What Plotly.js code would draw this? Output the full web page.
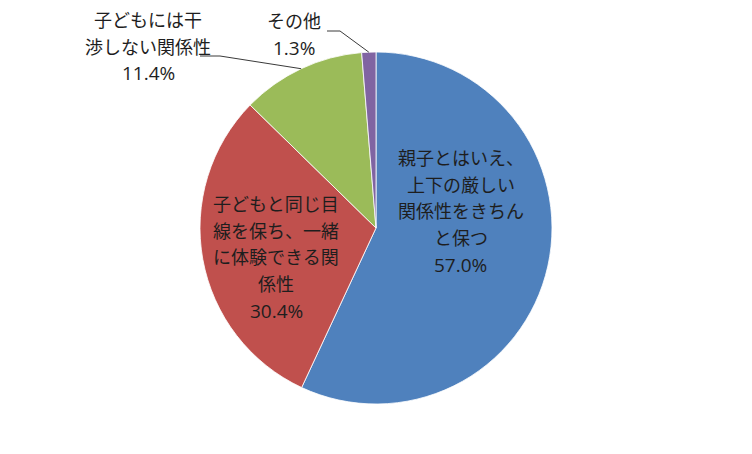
<!DOCTYPE html>
<html>
<head>
<meta charset="utf-8">
<script src="https://cdn.plot.ly/plotly-3.0.1.min.js"></script>
<style>html,body{margin:0;padding:0;background:#fff;}#chart{width:752px;height:454px;}</style>
</head>
<body>
<div id="chart"></div>
<script>
// ---- data ----
const categories = [
  '親子とはいえ、上下の厳しい関係性をきちんと保つ',
  '子どもと同じ目線を保ち、一緒に体験できる関係性',
  '子どもには干渉しない関係性',
  'その他'
];
const values = [57.0, 30.4, 11.4, 1.3];
const labelLines = [
  ['親子とはいえ、', '上下の厳しい', '関係性をきちん', 'と保つ'],
  ['子どもと同じ目', '線を保ち、一緒', 'に体験できる関', '係性'],
  ['子どもには干', '渉しない関係性'],
  ['その他']
];
const colors = ['#4F81BD', '#C0504D', '#9BBB59', '#8064A2'];

// ---- layout geometry (pixels) ----
const W = 752, H = 454;
const cx = 376, cy = 228, R = 176;
const px = x => x / W;
const py = y => 1 - y / H;

const jpFont = {family: '"Noto Sans CJK JP", sans-serif', size: 18, color: '#1e1e1e'};
const numFont = {family: '"Open Sans", sans-serif', size: 19, color: '#1e1e1e'};
const lineGap = 26.7;

// label block placement: [centre x, first line y]
const labelPos = [[461, 157], [276, 203], [148, 19], [294, 20]];

const annotations = [];
labelLines.forEach((lines, i) => {
  const [bx, by] = labelPos[i];
  lines.forEach((t, k) => {
    annotations.push({xref: 'paper', yref: 'paper', x: px(bx), y: py(by + k * lineGap),
      xanchor: 'center', yanchor: 'middle', text: t, showarrow: false, font: jpFont});
  });
  annotations.push({xref: 'paper', yref: 'paper', x: px(bx), y: py(by + lines.length * lineGap + 1),
    xanchor: 'center', yanchor: 'middle', text: values[i].toFixed(1) + '%', showarrow: false, font: numFont});
});

// leader line anchors from slice mid-angles
const total = values.reduce((a, b) => a + b, 0);
function anchor(i) {
  let before = 0;
  for (let k = 0; k < i; k++) before += values[k];
  const f = (before + values[i] / 2) / total;
  const th = 2 * Math.PI * f;
  return [cx + R * Math.sin(th), cy - R * Math.cos(th)];
}
const shapes = [];
function leader(i, x0, x1, y) {
  const [ax, ay] = anchor(i);
  const ln = {color: '#3a3a3a', width: 1};
  shapes.push({type: 'line', xref: 'paper', yref: 'paper', x0: px(x0), x1: px(x1), y0: py(y), y1: py(y), line: ln});
  shapes.push({type: 'line', xref: 'paper', yref: 'paper', x0: px(x1), x1: px(ax), y0: py(y), y1: py(ay), line: ln});
}
leader(2, 200, 220, 56);
leader(3, 327, 340, 31);

const trace = {
  type: 'pie',
  labels: categories,
  values: values,
  sort: false,
  direction: 'clockwise',
  rotation: 0,
  textinfo: 'none',
  hoverinfo: 'label+percent',
  marker: {colors: colors, line: {color: '#ffffff', width: 0.8}},
  domain: {x: [px(cx - R), px(cx + R)], y: [py(cy + R), py(cy - R)]},
  showlegend: false
};

Plotly.newPlot('chart', [trace], {
  width: W, height: H,
  margin: {l: 0, r: 0, t: 0, b: 0},
  paper_bgcolor: '#ffffff',
  plot_bgcolor: '#ffffff',
  showlegend: false,
  annotations: annotations,
  shapes: shapes
}, {staticPlot: true});
</script>
</body>
</html>
